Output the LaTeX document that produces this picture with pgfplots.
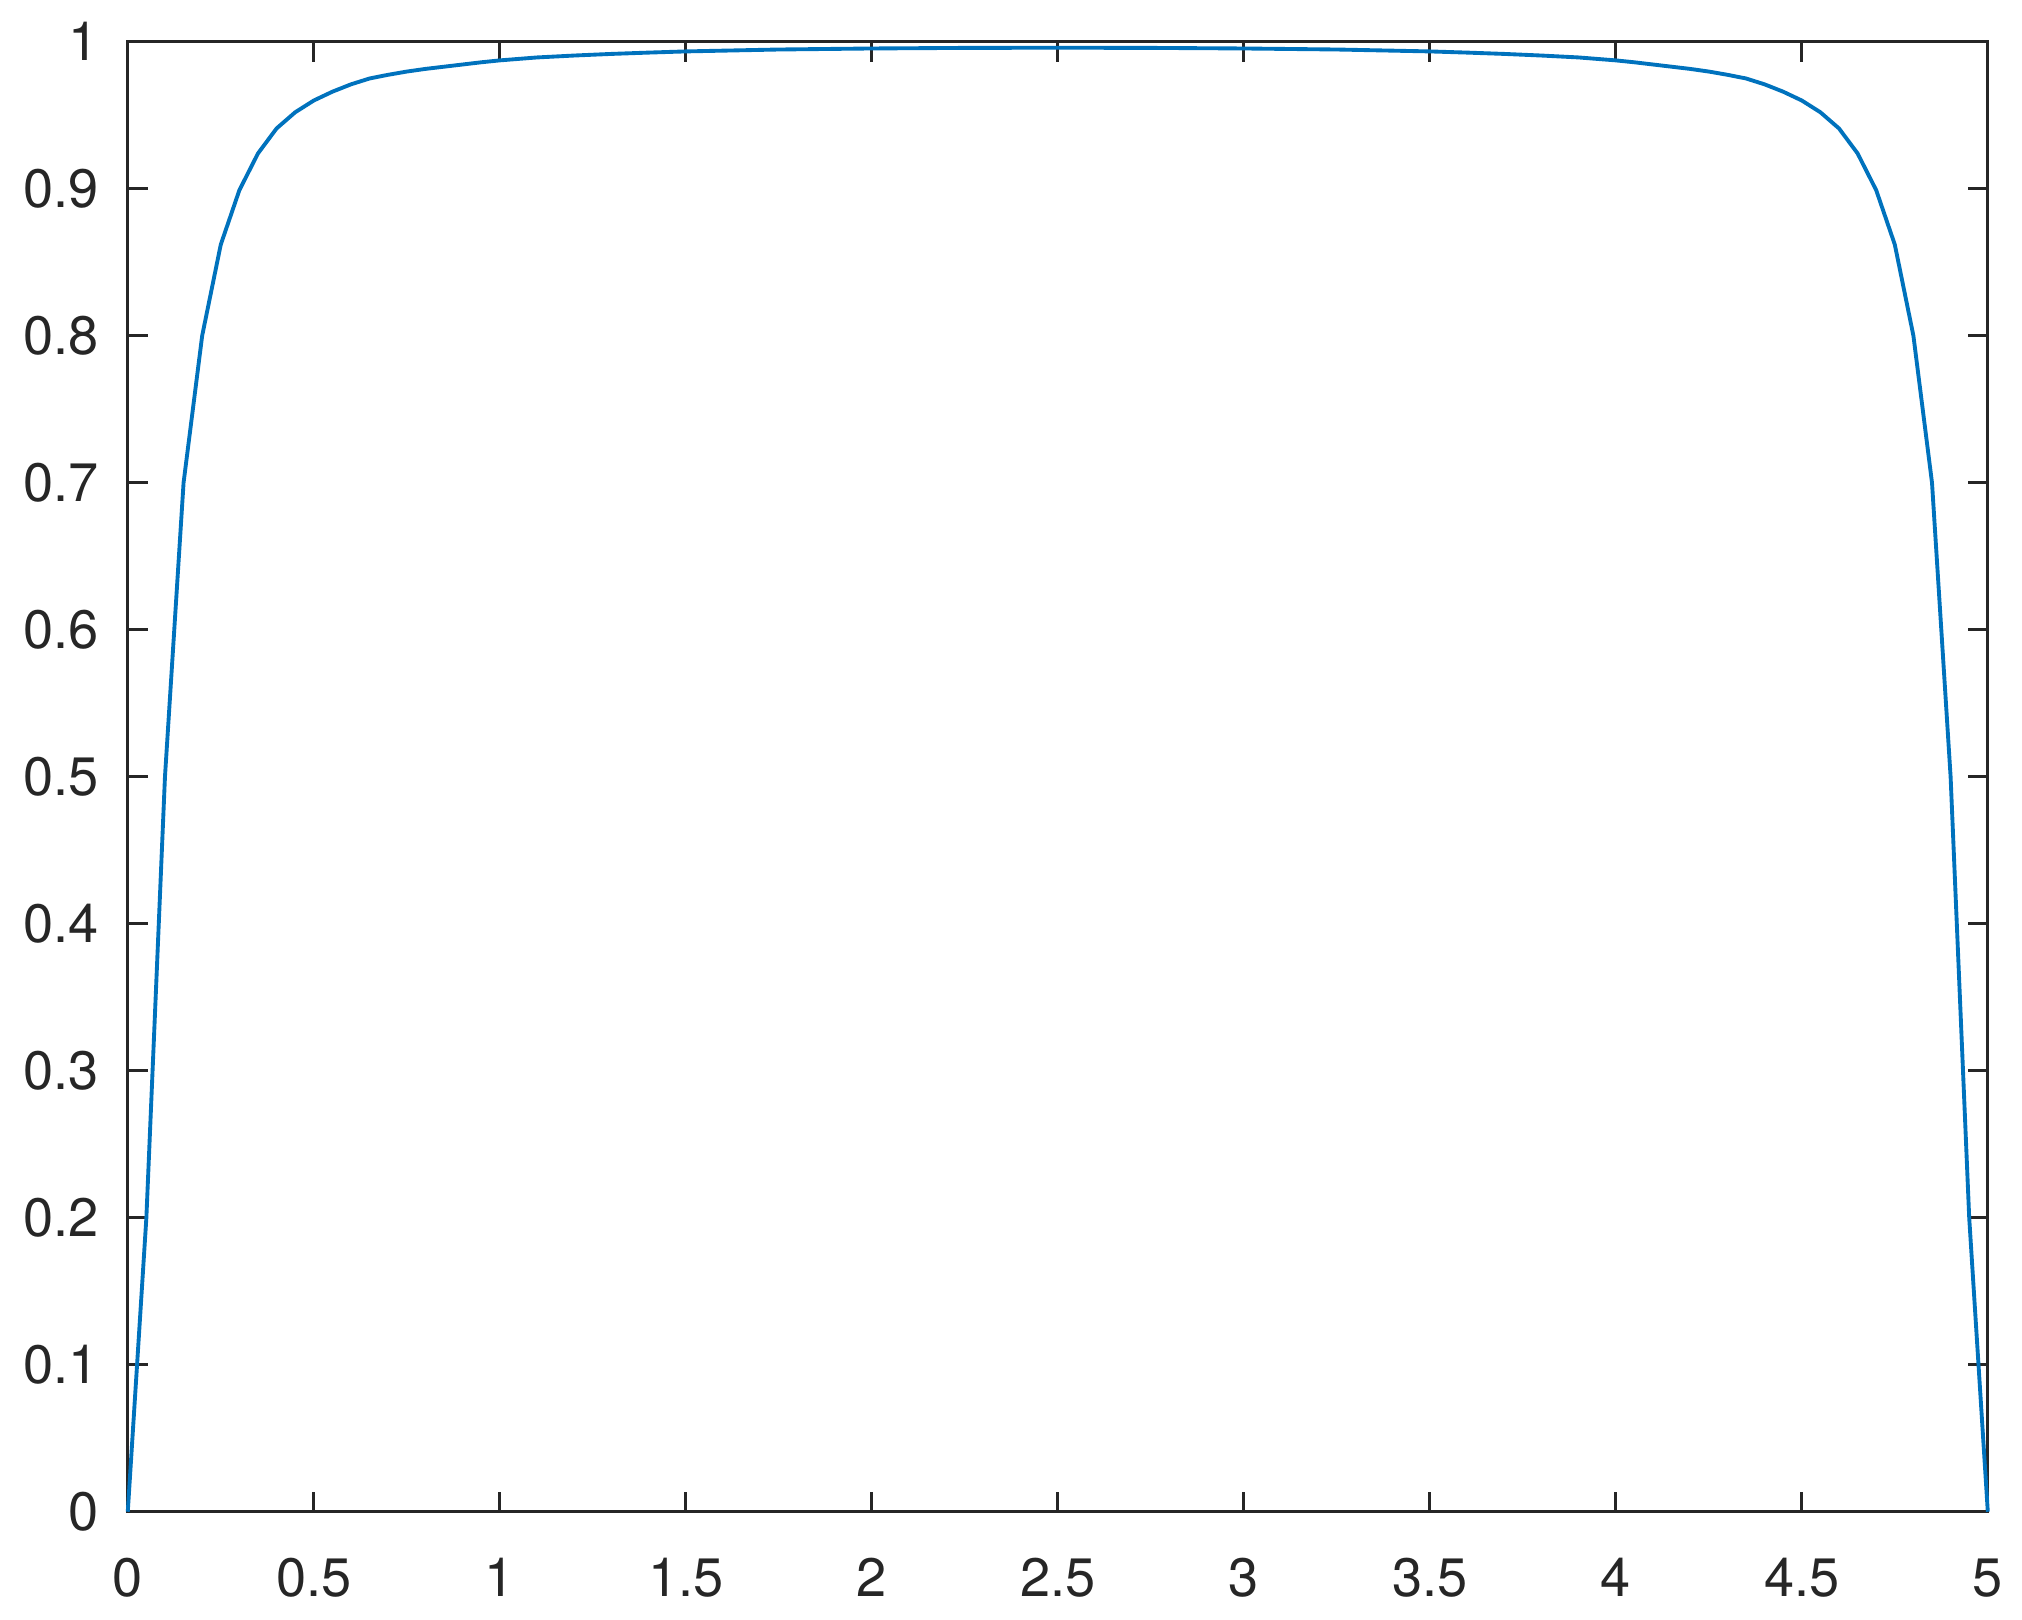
\documentclass[border=0pt]{standalone}
\usepackage{fontspec}
\setmainfont{TeX Gyre Heros}
\usepackage{pgfplots}
\pgfplotsset{compat=1.18}
\definecolor{mblue}{HTML}{0072BD}
\definecolor{axgray}{HTML}{262626}
\begin{document}
\fontsize{15.4pt}{18pt}\selectfont
\begin{tikzpicture}
\begin{axis}[
  scale only axis,
  width=18.6cm, height=14.7cm,
  xmin=0, xmax=5, ymin=0, ymax=1,
  xtick={0,0.5,...,5},
  ytick={0,0.1,...,1},
  yticklabels={0,0.1,0.2,0.3,0.4,0.5,0.6,0.7,0.8,0.9,1},
  xticklabels={0,0.5,1,1.5,2,2.5,3,3.5,4,4.5,5},
  tick align=inside,
  major tick length=2mm,
  axis line style={axgray, line width=0.85pt},
  every tick/.style={axgray, line width=0.85pt},
  tick label style={text=axgray, font=\fontsize{15.4pt}{18pt}\selectfont},
  yticklabel style={anchor=east, inner sep=0pt, xshift=-2.8mm},
  xticklabel style={anchor=north, inner sep=0pt, yshift=-4.6mm},
  /pgf/number format/assume math mode=true,
  clip=false,
]
\addplot[mblue, line width=1.1pt] coordinates {
(0,0) (0.05,0.20) (0.10,0.50) (0.15,0.70) (0.20,0.80) (0.25,0.862) (0.30,0.899)
(0.35,0.924) (0.40,0.941) (0.45,0.952) (0.50,0.960) (0.55,0.966) (0.60,0.971)
(0.65,0.975) (0.70,0.9775) (0.75,0.9797) (0.80,0.9815) (0.85,0.983) (0.90,0.9845)
(0.95,0.986) (1.00,0.9873) (1.10,0.9893) (1.20,0.9906) (1.30,0.9917) (1.40,0.9926)
(1.50,0.9934) (1.75,0.9947) (2.00,0.9954) (2.25,0.9958) (2.50,0.9959)
(2.75,0.9958) (3.00,0.9954) (3.25,0.9947) (3.50,0.9934) (3.60,0.9926) (3.70,0.9917)
(3.80,0.9906) (3.90,0.9893) (4.00,0.9873) (4.05,0.986) (4.10,0.9845) (4.15,0.983)
(4.20,0.9815) (4.25,0.9797) (4.30,0.9775) (4.35,0.975) (4.40,0.971) (4.45,0.966)
(4.50,0.960) (4.55,0.952) (4.60,0.941) (4.65,0.924) (4.70,0.899) (4.75,0.862)
(4.80,0.80) (4.85,0.70) (4.90,0.50) (4.95,0.20) (5,0)
};
\path (rel axis cs:-0.0687,-0.073) rectangle (rel axis cs:1.0184,1.0284);
\end{axis}
\end{tikzpicture}
\end{document}
